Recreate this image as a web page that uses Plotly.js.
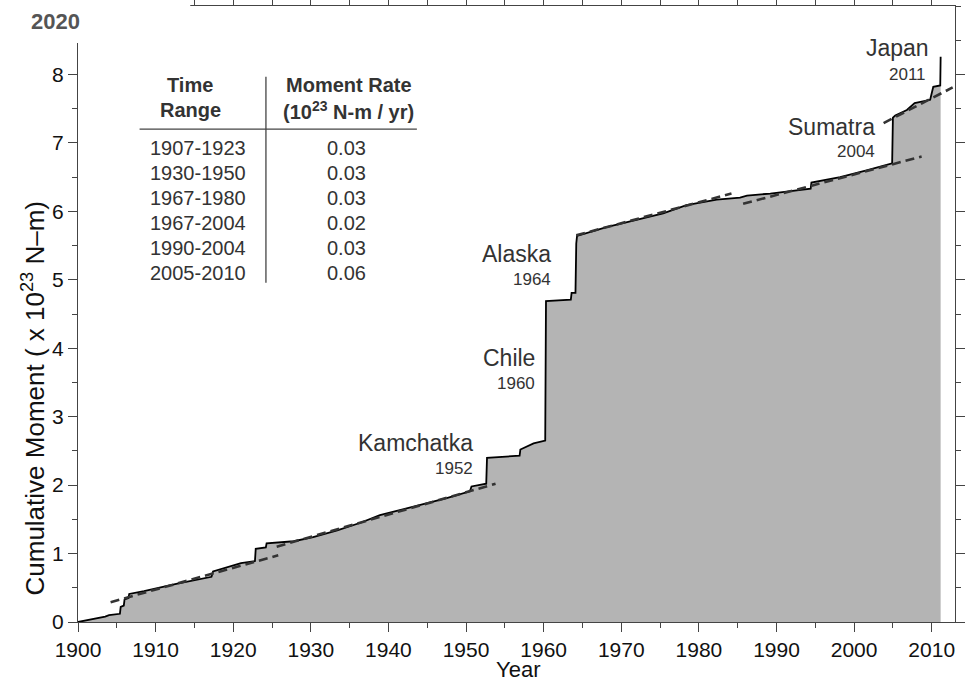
<!DOCTYPE html>
<html>
<head>
<meta charset="utf-8">
<script src="https://cdn.plot.ly/plotly-3.0.1.min.js"></script>
<style>
  html, body { margin: 0; padding: 0; background: #fff; }
  #chart { width: 979px; height: 682px; }
</style>
</head>
<body>
<div id="chart"></div>
<script>
// Cumulative seismic moment, 1900-2011 (x 10^23 N-m), as a stepped series
const years = [
  1900.0, 1901.5, 1903.5, 1904.0, 1905.4, 1905.5, 1905.9, 1906.0, 1906.5, 1906.6,
  1908.5, 1912.8, 1917.2, 1917.4, 1919.2, 1921.0, 1922.8, 1922.9, 1924.2, 1924.3,
  1927.8, 1930.3, 1933.4, 1936.4, 1938.9, 1943.7, 1947.5, 1950.5, 1950.7, 1952.6,
  1952.7, 1956.9, 1957.0, 1958.7, 1960.2, 1960.3, 1963.5, 1963.6, 1964.1, 1964.2,
  1964.3, 1968.1, 1972.0, 1975.4, 1978.4, 1982.3, 1985.3, 1986.2, 1989.2, 1991.7,
  1994.4, 1994.5, 1998.2, 2001.6, 2003.8, 2004.9, 2005.0, 2005.3, 2006.8, 2007.8,
  2009.8, 2010.2, 2011.1, 2011.15
];
const moment = [
  0.00, 0.03, 0.08, 0.10, 0.12, 0.22, 0.24, 0.33, 0.35, 0.41,
  0.45, 0.56, 0.66, 0.74, 0.80, 0.86, 0.89, 1.07, 1.09, 1.15,
  1.18, 1.24, 1.34, 1.45, 1.56, 1.70, 1.81, 1.91, 1.98, 2.02,
  2.40, 2.43, 2.52, 2.61, 2.65, 4.69, 4.71, 4.81, 4.81, 5.53,
  5.64, 5.77, 5.88, 5.97, 6.09, 6.17, 6.20, 6.23, 6.26, 6.29,
  6.33, 6.42, 6.50, 6.60, 6.67, 6.70, 7.37, 7.40, 7.48, 7.58,
  7.63, 7.82, 7.84, 8.26
];

// Linear moment-rate fits (dashed)
const fit1Years = [1904.2, 1925.8];
const fit1Moment = [0.29, 0.975];
const fit2Years = [1925.6, 1953.8];
const fit2Moment = [1.10, 2.02];
const fit3Years = [1964.2, 1984.2];
const fit3Moment = [5.65, 6.26];
const fit4Years = [1985.7, 2008.7];
const fit4Moment = [6.11, 6.80];
const fit5Years = [2003.8, 2012.7];
const fit5Moment = [7.29, 7.81];

// Great earthquakes marked on the curve
const eventNames = ['Kamchatka', 'Chile', 'Alaska', 'Sumatra', 'Japan'];
const eventYears = ['1952', '1960', '1964', '2004', '2011'];

// Moment-rate table
const tableRanges = ['1907-1923', '1930-1950', '1967-1980', '1967-2004', '1990-2004', '2005-2010'];
const tableRates = ['0.03', '0.03', '0.03', '0.02', '0.03', '0.06'];

const xTickVals = [1900, 1910, 1920, 1930, 1940, 1950, 1960, 1970, 1980, 1990, 2000, 2010];
const yTickVals = [0, 1, 2, 3, 4, 5, 6, 7, 8];

// Plot box in pixels, used to place the table and overlays
const W = 979, H = 682;
const L = 77.7, R = 955, T = 6, B = 621.7;
const px = x => (x - L) / (R - L);
const py = y => (B - y) / (B - T);

const FONT = 'Liberation Sans, Arial, Helvetica, sans-serif';
const INK = '#333';
const AXIS = '#444';

const dashStyle = { color: '#333', width: 2.6, dash: '9px,5px' };
const fits = [
  [fit1Years, fit1Moment], [fit2Years, fit2Moment], [fit3Years, fit3Moment],
  [fit4Years, fit4Moment], [fit5Years, fit5Moment]
].map(([x, y]) => ({
  type: 'scatter', mode: 'lines', x, y, line: dashStyle, hoverinfo: 'skip', showlegend: false
}));

const traces = [
  {
    type: 'scatter', mode: 'lines', x: years, y: moment,
    fill: 'tozeroy', fillcolor: '#b4b4b4',
    line: { color: '#000', width: 1.8 }, showlegend: false
  },
  ...fits
];

// Event label anchor points (right-aligned), in data units
const eventLabelPos = [
  { name: [1951.2, 2.61], year: [1951.2, 2.25] },
  { name: [1959.1, 3.85], year: [1959.1, 3.49] },
  { name: [1961.2, 5.38], year: [1961.2, 5.01] },
  { name: [2002.9, 7.23], year: [2003.0, 6.88] },
  { name: [2009.9, 8.38], year: [2009.5, 8.00] }
];

const annotations = [];
eventNames.forEach((n, i) => {
  const p = eventLabelPos[i];
  annotations.push({
    xref: 'x', yref: 'y', x: p.name[0], y: p.name[1], text: n, showarrow: false,
    xanchor: 'right', yanchor: 'middle', font: { family: FONT, size: 23, color: INK }
  });
  annotations.push({
    xref: 'x', yref: 'y', x: p.year[0], y: p.year[1], text: eventYears[i], showarrow: false,
    xanchor: 'right', yanchor: 'middle', font: { family: FONT, size: 17, color: INK }
  });
});

// Table header
const hdrFont = { family: FONT, size: 20, color: INK };
[['<b>Time</b>', 190, 85], ['<b>Range</b>', 190, 110],
 ['<b>Moment Rate</b>', 348.3, 85], ['<b>(10<sup>23</sup> N-m / yr)</b>', 348.3, 110]]
  .forEach(([t, x, y]) => annotations.push({
    xref: 'paper', yref: 'paper', x: px(x), y: py(y), text: t, showarrow: false,
    xanchor: 'center', yanchor: 'middle', font: hdrFont
  }));

// Table rows
const rowFont = { family: FONT, size: 20, color: INK };
tableRanges.forEach((r, i) => {
  const y = 148.3 + i * 25;
  annotations.push({
    xref: 'paper', yref: 'paper', x: px(197.3), y: py(y), text: r, showarrow: false,
    xanchor: 'center', yanchor: 'middle', font: rowFont
  });
  annotations.push({
    xref: 'paper', yref: 'paper', x: px(346.7), y: py(y), text: tableRates[i], showarrow: false,
    xanchor: 'center', yanchor: 'middle', font: rowFont
  });
});

// Axis titles
annotations.push({
  xref: 'paper', yref: 'paper', x: px(33), y: py(398), text: 'Cumulative Moment ( x 10<sup>23</sup> N\u2013m)',
  textangle: -90, showarrow: false, xanchor: 'center', yanchor: 'middle',
  font: { family: FONT, size: 26, color: '#111' }
});
annotations.push({
  xref: 'paper', yref: 'paper', x: px(518), y: py(669), text: 'Year', showarrow: false,
  xanchor: 'center', yanchor: 'middle', font: { family: FONT, size: 22, color: '#111' }
});

// Corner note
annotations.push({
  xref: 'paper', yref: 'paper', x: px(55), y: py(21), text: '<b>2020</b>', showarrow: false,
  xanchor: 'center', yanchor: 'middle', font: { family: FONT, size: 22, color: '#555' }
});

const shapes = [
  // table rules
  { type: 'line', xref: 'paper', yref: 'paper', x0: px(265.7), x1: px(265.7), y0: py(76.7), y1: py(282.7),
    line: { color: '#444', width: 1.3 } },
  { type: 'line', xref: 'paper', yref: 'paper', x0: px(139.3), x1: px(416.7), y0: py(129), y1: py(129),
    line: { color: '#444', width: 1.3 } },
  // blank corner patch
  { type: 'rect', xref: 'paper', yref: 'paper', x0: px(0), x1: px(190), y0: py(43), y1: py(-2),
    fillcolor: '#fff', line: { width: 0 }, layer: 'above' }
];

const axisCommon = {
  showline: true, linecolor: AXIS, linewidth: 1, mirror: 'allticks',
  ticks: 'outside', ticklen: 9, tickwidth: 1, tickcolor: AXIS,
  showgrid: false, zeroline: false,
  tickfont: { family: FONT, size: 21, color: '#111' }
};

const layout = {
  width: W, height: H,
  margin: { l: L, r: W - R, t: T, b: H - B, pad: 0 },
  paper_bgcolor: '#fff', plot_bgcolor: '#fff',
  showlegend: false,
  xaxis: Object.assign({}, axisCommon, {
    range: [1900, 2013], tickmode: 'array', tickvals: xTickVals,
    minor: { dtick: 5, tick0: 1900, ticks: 'outside', ticklen: 5, tickcolor: AXIS, tickwidth: 1 }
  }),
  yaxis: Object.assign({}, axisCommon, {
    range: [0, 9], tickmode: 'array', tickvals: yTickVals,
    minor: { dtick: 0.5, tick0: 0, ticks: 'outside', ticklen: 5, tickcolor: AXIS, tickwidth: 1 }
  }),
  annotations, shapes
};

Plotly.newPlot('chart', traces, layout, { displayModeBar: false, staticPlot: true });
</script>
</body>
</html>
